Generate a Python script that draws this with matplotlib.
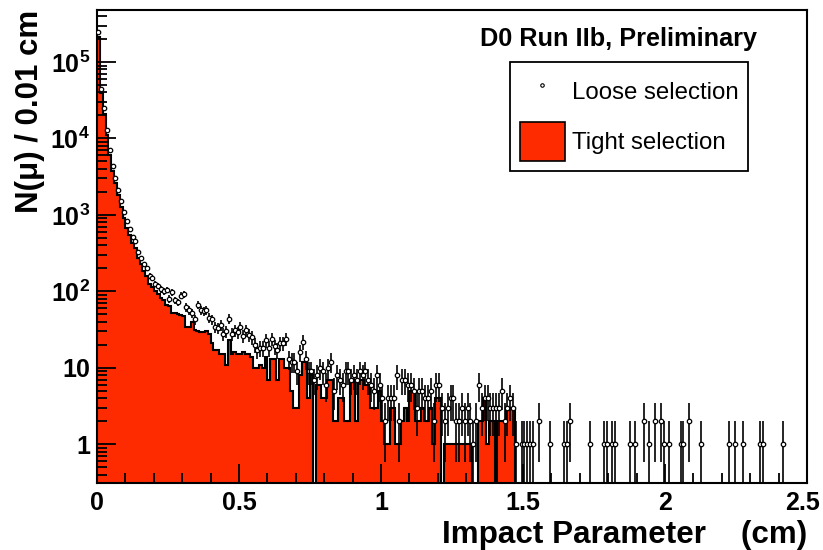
import matplotlib.pyplot as plt
import numpy as np
from matplotlib.lines import Line2D
from matplotlib.patches import Patch
from matplotlib.ticker import LogLocator, NullFormatter, MultipleLocator
from matplotlib.transforms import ScaledTranslation

plt.rcParams['font.family'] = ['Liberation Sans', 'DejaVu Sans']
plt.rcParams['mathtext.fontset'] = 'custom'
plt.rcParams['mathtext.rm'] = 'Liberation Sans:bold'
plt.rcParams['mathtext.bf'] = 'Liberation Sans:bold'
plt.rcParams['mathtext.it'] = 'Liberation Sans:bold'

# muon impact parameter, 250 bins of 0.01 cm from 0 to 2.5 cm
bin_width = 0.01
n_bins = 250

loose_counts = [
    250000, 45000, 25000, 13000, 7000, 4400, 3000, 2100, 1500, 1080,
    820, 650, 520, 450, 330, 275, 230, 200, 160, 150,
    125, 118, 106, 100, 104, 80, 97, 76, 72, 88,
    92, 62, 57, 52, 43, 66, 57, 55, 57, 45,
    43, 34, 33, 36, 28, 30, 44, 28, 31, 29,
    34, 26, 31, 27, 25, 20, 17, 18, 18, 23,
    18, 24, 19, 17, 21, 21, 24, 13, 12, 12,
    9, 16, 22, 13, 9, 9, 7, 8, 10, 9,
    6, 10, 12, 5, 8, 7, 6, 9, 9, 7,
    8, 7, 9, 8, 9, 7, 6, 5, 8, 6,
    4, 2, 4, 4, 4, 8, 2, 7, 7, 6,
    6, 5, 3, 5, 5, 4, 4, 5, 2, 6,
    6, 3, 2, 3, 4, 4, 2, 2, 3, 2,
    3, 2, 1, 2, 6, 3, 4, 4, 3, 3,
    3, 3, 5, 2, 3, 4, 3, 1, 0, 1,
    1, 1, 1, 1, 0, 2, 0, 0, 0, 1,
    0, 0, 0, 0, 1, 1, 2, 0, 0, 0,
    0, 0, 0, 1, 0, 0, 0, 0, 1, 1,
    0, 1, 1, 0, 0, 0, 0, 1, 0, 1,
    0, 0, 2, 0, 1, 0, 2, 0, 2, 1,
    0, 1, 0, 0, 0, 1, 1, 0, 2, 0,
    0, 0, 1, 0, 0, 0, 0, 0, 0, 0,
    0, 0, 1, 0, 1, 0, 0, 1, 0, 0,
    0, 0, 0, 1, 1, 0, 0, 0, 0, 0,
    0, 1, 0, 0, 0, 0, 0, 0, 0, 0,
]

tight_counts = [
    215000, 39000, 21000, 11000, 6000, 3800, 2600, 1800, 1250, 900,
    680, 540, 430, 370, 270, 225, 185, 160, 125, 115,
    100, 92, 82, 76, 66, 64, 52, 52, 50, 49,
    48, 34, 34, 40, 31, 30, 29, 29, 30, 28,
    21, 17, 17, 15, 15, 11, 23, 15, 16, 15,
    15, 16, 15, 15, 14, 10, 10, 11, 10, 14,
    7, 13, 13, 7, 13, 13, 10, 10, 5, 3,
    3, 8, 12, 12, 4, 8, 0, 6, 6, 4,
    4, 7, 7, 2, 2, 4, 4, 2, 2, 7,
    7, 2, 7, 7, 6, 6, 3, 3, 3, 5,
    2, 1, 1, 3, 3, 1, 1, 2, 3, 2,
    5, 5, 2, 2, 3, 2, 2, 3, 1, 4,
    4, 0, 1, 1, 1, 1, 1, 1, 1, 1,
    1, 1, 0, 0, 2, 2, 4, 1, 2, 2,
    0, 2, 2, 2, 3, 3, 3, 0, 0, 0,
    0, 0, 0, 0, 0, 0, 0, 0, 0, 0,
    0, 0, 0, 0, 0, 0, 0, 0, 0, 0,
    0, 0, 0, 0, 0, 0, 0, 0, 0, 0,
    0, 0, 0, 0, 0, 0, 0, 0, 0, 0,
    0, 0, 0, 0, 0, 0, 0, 0, 0, 0,
    0, 0, 0, 0, 0, 0, 0, 0, 0, 0,
    0, 0, 0, 0, 0, 0, 0, 0, 0, 0,
    0, 0, 0, 0, 0, 0, 0, 0, 0, 0,
    0, 0, 0, 0, 0, 0, 0, 0, 0, 0,
    0, 0, 0, 0, 0, 0, 0, 0, 0, 0,
]

x_ticks = [0, 0.5, 1, 1.5, 2, 2.5]
x_tick_labels = ['0', '0.5', '1', '1.5', '2', '2.5']
y_ticks = [1, 10, 100, 1e3, 1e4, 1e5]
y_tick_labels = ['1', '10', r'$\mathbf{10^{2}}$', r'$\mathbf{10^{3}}$',
                 r'$\mathbf{10^{4}}$', r'$\mathbf{10^{5}}$']

red = '#fe2a00'

loose = np.array(loose_counts, dtype=float)
tight = np.array(tight_counts, dtype=float)
edges = np.arange(n_bins + 1) * bin_width
centers = edges[:-1] + bin_width / 2

fig = plt.figure(figsize=(8.23, 5.5), dpi=100)
ax = fig.add_axes([0.1179, 0.1218, 0.8627, 0.86])
ax.set_yscale('log')

# empty bins drop below the visible range so the outline falls to the axis
tight_draw = np.clip(tight, 1e-3, None)
ax.stairs(tight_draw, edges, baseline=1e-3, fill=True, color=red, zorder=1)
ax.stairs(tight_draw, edges, baseline=None, color='black', lw=1.5, zorder=2)

# loose selection points with Poisson error bars
m = loose > 0
n = loose[m]
err = np.sqrt(n)
lo = n - np.clip(n - err, 1e-3, None)
ax.errorbar(centers[m], n, yerr=[lo, err], fmt='o', ms=3.2, mfc='white',
            mec='black', mew=0.9, ecolor='black', elinewidth=1.2, capsize=0,
            zorder=3)

ax.set_xlim(0, 2.5)
ax.set_ylim(0.31, 4.8e5)

ax.set_xticks(x_ticks, x_tick_labels)
ax.xaxis.set_minor_locator(MultipleLocator(0.1))
ax.set_yticks(y_ticks, y_tick_labels)
ax.yaxis.set_minor_locator(LogLocator(base=10, subs=np.arange(2, 10)))
ax.yaxis.set_minor_formatter(NullFormatter())

ax.tick_params(which='both', direction='in', top=False, right=False,
               width=1.3, labelsize=18)
ax.tick_params(axis='both', which='major', length=14)
ax.tick_params(axis='both', which='minor', length=7)
ax.tick_params(axis='x', which='major', pad=6)
ax.tick_params(axis='y', which='major', pad=5)
for lab in ax.get_xticklabels() + ax.get_yticklabels():
    lab.set_fontweight('bold')
# nudge the last x label so it stays inside the canvas
last = ax.get_xticklabels()[-1]
last.set_transform(last.get_transform() +
                   ScaledTranslation(-3 / 72, 0, fig.dpi_scale_trans))
for s in ax.spines.values():
    s.set_linewidth(1.5)

ax.set_xlabel('Impact Parameter    (cm)', loc='right', fontsize=22.6,
              fontweight='bold', labelpad=3)
ax.set_ylabel('N(\u03bc) / 0.01 cm', loc='top', fontsize=22.5,
              fontweight='bold', labelpad=4)

ax.text(0.93, 0.939, 'D0 Run IIb, Preliminary', transform=ax.transAxes,
        ha='right', va='center', fontsize=18.2, fontweight='bold')

handles = [
    Line2D([], [], marker='o', ls='none', ms=2.5, mfc='white', mec='black', mew=0.8),
    Patch(facecolor=red, edgecolor='black', lw=1.2),
]
leg = ax.legend(handles, ['Loose selection', 'Tight selection'],
                loc='upper left', bbox_to_anchor=(0.582, 0.89), fontsize=17.3,
                frameon=True, fancybox=False, framealpha=1, edgecolor='black',
                handlelength=1.87, handleheight=2.1, handletextpad=0.3,
                labelspacing=0.5, borderpad=0.4, borderaxespad=0)
leg.get_frame().set_linewidth(1.3)

fig.savefig('out.png', dpi=100)
